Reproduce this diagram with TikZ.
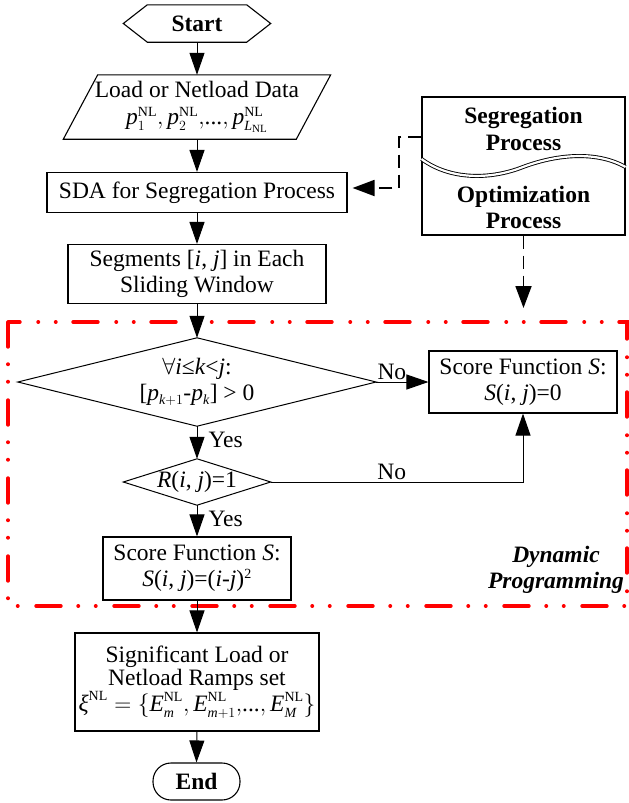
\RequirePackage{fix-cm}
\documentclass[tikz,border=0pt]{standalone}
\usepackage{amsmath}
\usepackage{fontspec}
\setmainfont{Liberation Serif}
\usetikzlibrary{arrows.meta}
\DeclareMathSizes{23.5}{23.5}{14}{11}
\newcommand\mi[1]{\text{\itshape #1}}
\newcommand\NLs{\text{\upshape NL}}
\newcommand\dotsx{\text{...}}
\begin{document}
\begin{tikzpicture}[x=1pt,y=-1pt,
  font=\fontsize{23.5}{26}\selectfont,
  box/.style={draw, line width=1.1pt, inner sep=0pt, align=center},
  ghost/.style={inner sep=0pt, align=center},
  arr/.style={line width=1pt, -{Triangle[length=22pt,width=15pt]}},
  darr/.style={line width=1.8pt, dash pattern=on 13pt off 7pt, -{Triangle[length=22pt,width=16pt]}},
  lbl/.style={inner sep=0pt},
  reddash/.style={draw=red, line width=3.4pt, line cap=round,
     dash pattern=on 25pt off 17pt on 0.5pt off 17pt on 0.5pt off 18pt}
]
\useasboundingbox (0,0) rectangle (629,803);

% dynamic programming frame
\draw[reddash] (8,322) rectangle (627,606);
\node[ghost, font=\fontsize{23.5}{26}\selectfont\bfseries\itshape] (dyn) at (556,570) {Dynamic\\Programming};

% start hexagon
\node[ghost, minimum width=147pt, minimum height=37pt, font=\fontsize{23.5}{26}\selectfont\bfseries] (start) at (197,23.5) {Start};
\draw[line width=1.1pt] (start.west) -- ([xshift=24pt]start.north west) -- ([xshift=-24pt]start.north east)
  -- (start.east) -- ([xshift=-24pt]start.south east) -- ([xshift=24pt]start.south west) -- cycle;

% load parallelogram
\node[ghost, minimum width=267pt, minimum height=64pt] (load) at (197,107)
  {Load or Netload Data\\[1pt]$\mi{p}_1^{\NLs}{,}\,\mi{p}_2^{\NLs}{,}\dotsx{,}\,\mi{p}_{\mi{L}_{\NLs}}^{\NLs}$};
\draw[line width=1.1pt] (load.south west) -- ++(233,0) -- (load.north east) -- ++(-233,0) -- cycle;

\node[box, minimum width=300pt, minimum height=40pt] (sda) at (197,192.5) {SDA for Segregation Process};
\node[box, minimum width=258pt, minimum height=59pt] (seg) at (197,274)
  {Segments [\mi{i}, \mi{j}] in Each\\Sliding Window};

% diamond 1
\node[ghost, minimum width=358pt, minimum height=88pt] (d1) at (197,382)
  {$\forall$\mi{i}≤\mi{k}<\mi{j}:\\{}[\mi{p}$_{\mi{k}+1}$-\mi{p}$_{\mi{k}}$] > 0};
\draw[line width=1pt] (d1.west) -- (d1.north) -- (d1.east) -- (d1.south) -- cycle;

\node[box, minimum width=188pt, minimum height=62pt] (s0) at (523,382)
  {Score Function \mi{S}:\\\mi{S}(\mi{i}, \mi{j})=0};

% diamond 2
\node[ghost, minimum width=147pt, minimum height=46pt] (d2) at (197,482) {\mi{R}(\mi{i}, \mi{j})=1};
\draw[line width=1pt] (d2.west) -- (d2.north) -- (d2.east) -- (d2.south) -- cycle;

\node[box, minimum width=188pt, minimum height=63pt] (s2) at (197,568.5)
  {Score Function \mi{S}:\\\mi{S}(\mi{i}, \mi{j})=(\mi{i}-\mi{j})\textsuperscript{2}};

\node[box, minimum width=244pt, minimum height=98pt] (sig) at (197,682)
  {Significant Load or\\[-3pt]Netload Ramps set\\$\mi{ξ}^{\NLs}=\{\mi{E}_{\mi{m}}^{\NLs}{,}\,\mi{E}_{\mi{m}+1}^{\NLs}{,}\dotsx{,}\,\mi{E}_{\mi{M}}^{\NLs}\}$};

\node[box, minimum width=87pt, minimum height=37pt, rounded corners=18pt, font=\fontsize{23.5}{26}\selectfont\bfseries] (endn) at (196.5,781.5) {End};

% right box
\node[box, minimum width=203pt, minimum height=138pt] (rbox) at (523.5,166) {};
\draw[line width=0.9pt, double=white, double distance=2.2pt]
  (rbox.west |- 0,159) .. controls (450,180) and (490,180) .. (523,167)
  .. controls (555,155) and (595,150) .. (rbox.east |- 0,167);
\node[ghost, font=\fontsize{23.5}{27}\selectfont\bfseries] (segt) at (523.5,129) {Segregation\\Process};
\node[ghost, font=\fontsize{23.5}{26}\selectfont\bfseries] (optt) at (523.5,207.5) {Optimization\\Process};

% connectors
\draw[arr] (start.south) -- (load.north);
\draw[arr] (load.south) -- (sda.north);
\draw[arr] (sda.south) -- (seg.north);
\draw[arr] (seg.south) -- (d1.north);
\draw[arr] (d1.east) -- node[above, pos=0.3, inner sep=2pt]{No} (s0.west);
\draw[arr] (d1.south) -- node[right, pos=0.42, lbl, xshift=11pt]{Yes} (d2.north);
\draw[arr] (d2.east) -| node[above, pos=0.24, inner sep=2pt]{No} (s0.south);
\draw[arr] (d2.south) -- node[right, pos=0.44, lbl, xshift=11pt]{Yes} (s2.north);
\draw[arr] (s2.south) -- (sig.north);
\draw[arr] (sig.south) -- (endn.north);

% dashed connectors
\coordinate (dB) at (399,188);
\coordinate (dC) at (523.5,308);
\draw[darr, shorten >=5pt] ([yshift=29pt]rbox.west) -| (dB) -- (sda.east |- dB);
\draw[darr] (rbox.south) -- (dC);
\end{tikzpicture}
\end{document}
